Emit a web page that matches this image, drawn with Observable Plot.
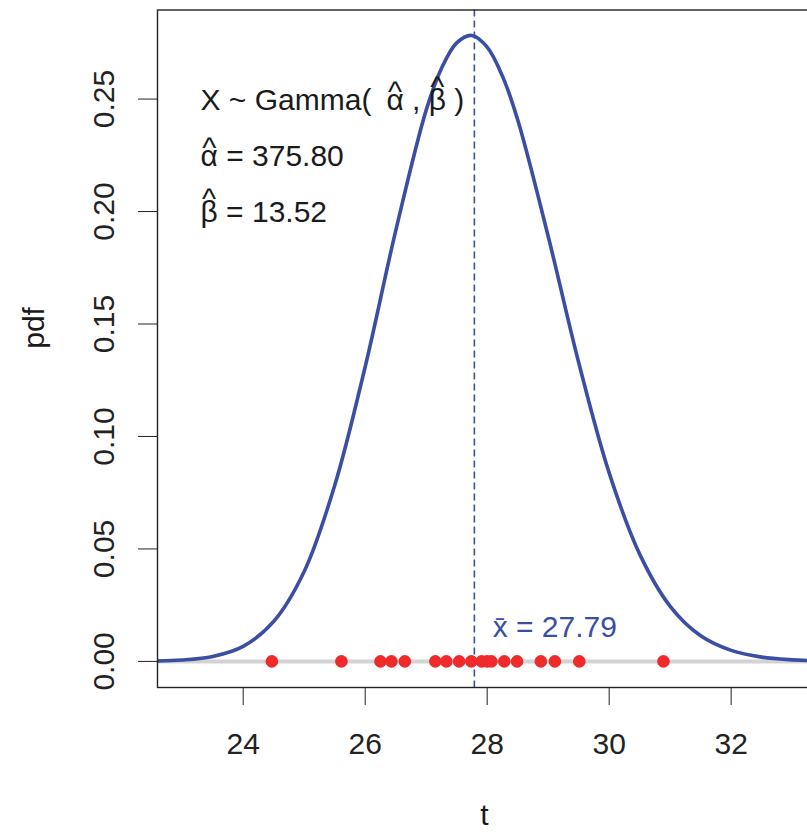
<!DOCTYPE html>
<html>
<head>
<meta charset="utf-8">
<script src="https://cdn.jsdelivr.net/npm/d3@7"></script>
<script src="https://cdn.jsdelivr.net/npm/@observablehq/plot@0.6"></script>
<style>
  html, body { margin: 0; padding: 0; background: #ffffff; }
  #chart svg { display: block; }
</style>
</head>
<body>
<div id="chart"></div>
<script>
// ---- data ----
const tValues   = [22.6, 23.0, 23.5, 24.0, 24.5, 25.0, 25.5, 26.0, 26.5, 27.0, 27.25, 27.5, 27.75, 28.0, 28.25, 28.5, 29.0, 29.5, 30.0, 30.5, 31.0, 31.5, 32.0, 32.5, 33.0, 33.4];
const pdfValues = [0.0002, 0.0006, 0.0022, 0.0067, 0.0178, 0.0400, 0.0782, 0.1310, 0.1914, 0.2451, 0.2636, 0.2750, 0.2783, 0.2731, 0.2602, 0.2408, 0.1890, 0.1329, 0.0838, 0.0477, 0.0245, 0.0114, 0.0049, 0.0019, 0.0007, 0.0003];
const observations = [24.47, 25.61, 26.25, 26.43, 26.65, 27.15, 27.33, 27.54, 27.74, 27.91, 28.00, 28.07, 28.28, 28.49, 28.88, 29.11, 29.51, 30.89];
const xTicks = [24, 26, 28, 30, 32];
const yTicks = [0.00, 0.05, 0.10, 0.15, 0.20, 0.25];
const alphaHat = 375.80;
const betaHat = 13.52;
const xBar = 27.79;

// ---- derived tables ----
const curve = tValues.map((t, i) => ({t, pdf: pdfValues[i]}));
const obs = observations.map(t => ({t, y: 0}));

const A = "\u03B1", B = "\u03B2";
const line1Pre = "X ~ Gamma(\u2002";
const line1Mid = " , ";
const line1 = line1Pre + A + line1Mid + B + " )";
const line2 = A + " = " + alphaHat.toFixed(2);
const line3 = B + " = " + betaHat.toFixed(2);

const font = "'Liberation Sans', Arial, Helvetica, sans-serif";
const ctx = document.createElement("canvas").getContext("2d");
ctx.font = "30px " + font;
const w = s => ctx.measureText(s).width;

const annX = 23.3;
const annY = [0.25, 0.225, 0.20];
const annotations = [line1, line2, line3].map((label, i) => ({t: annX, y: annY[i], label}));

const blue = "#3a4ea3";
const red = "#ee2a2a";
const ink = "#1a1a1a";

function hat(y, dx, dy) {
  return Plot.text([{t: annX, y}], {x: "t", y: "y", text: () => "^", textAnchor: "middle", lineAnchor: "middle", dx, dy, fontSize: 30, fill: ink});
}

const chart = Plot.plot({
  width: 807,
  height: 832,
  marginLeft: 157,
  marginRight: -4,
  marginTop: 9.5,
  marginBottom: 145,
  style: {fontFamily: font, fontSize: "30px", color: "#222", background: "#fff", overflow: "hidden"},
  x: {domain: [22.595, 33.317]},
  y: {domain: [-0.0116, 0.2896]},
  marks: [
    Plot.ruleY([0], {stroke: "#d3d3d3", strokeWidth: 4}),
    Plot.ruleX([xBar], {stroke: blue, strokeWidth: 1.6, strokeDasharray: "7,4"}),
    Plot.line(curve, {x: "t", y: "pdf", stroke: blue, strokeWidth: 3.6, curve: "catmull-rom", clip: true}),
    Plot.dot(obs, {x: "t", y: "y", r: 6.3, fill: red, stroke: "none"}),
    Plot.text(annotations, {x: "t", y: "y", text: "label", textAnchor: "start", lineAnchor: "middle", dy: 1, fontSize: 30, fill: ink}),
    hat(annY[0], w(line1Pre) + w(A) / 2, -7),
    hat(annY[0], w(line1Pre + A + line1Mid) + w(B) / 2, -12),
    hat(annY[1], w(A) / 2, -7),
    hat(annY[2], w(B) / 2, -12),
    Plot.text([{t: xBar + 0.3, y: 0.015}], {x: "t", y: "y", text: () => "x\u0304 = " + xBar.toFixed(2), textAnchor: "start", lineAnchor: "middle", fontSize: 30, fill: blue}),
    Plot.frame({stroke: "#222", strokeWidth: 1.4}),
    Plot.axisX({ticks: xTicks, tickFormat: d => String(d), tickSize: 18, tickPadding: 27, fontSize: 30, label: null, stroke: "#222"}),
    Plot.axisY({ticks: yTicks, tickFormat: d3.format(".2f"), tickSize: 19, tickPadding: 25, tickRotate: -90, fontSize: 30, label: null, stroke: "#222"}),
    Plot.text(["t"], {frameAnchor: "bottom", dy: 128, lineAnchor: "middle", fontSize: 30, fill: ink}),
    Plot.text(["pdf"], {frameAnchor: "left", dx: -123, rotate: -90, lineAnchor: "middle", fontSize: 30, fill: ink})
  ]
});
document.getElementById("chart").appendChild(chart);
</script>
</body>
</html>
